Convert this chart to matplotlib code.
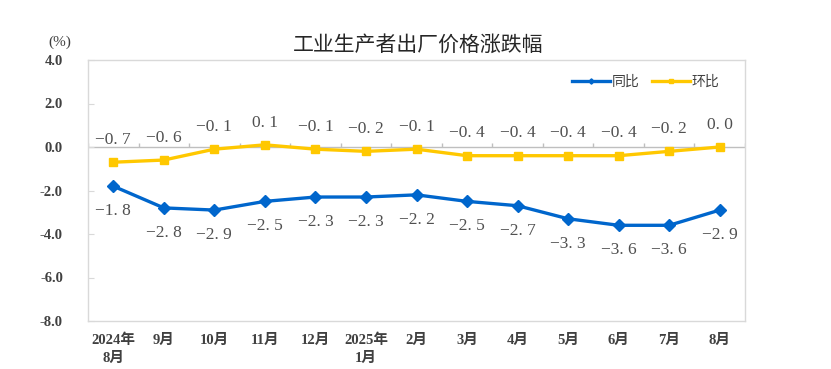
import matplotlib
matplotlib.use("Agg")
import matplotlib.pyplot as plt
import numpy as np

# data
months = ["2024年\n8月", "9月", "10月", "11月", "12月", "2025年\n1月", "2月",
          "3月", "4月", "5月", "6月", "7月", "8月"]
yoy = [-1.8, -2.8, -2.9, -2.5, -2.3, -2.3, -2.2, -2.5, -2.7, -3.3, -3.6, -3.6, -2.9]
mom = [-0.7, -0.6, -0.1, 0.1, -0.1, -0.2, -0.1, -0.4, -0.4, -0.4, -0.4, -0.2, 0.0]
yticks = [4.0, 2.0, 0.0, -2.0, -4.0, -6.0, -8.0]

BLUE = "#0066CC"
YELLOW = "#FFC800"
GRID = "#D9D9D9"
TXT = "#404040"
SERIF = ["Liberation Serif", "Noto Sans CJK SC"]
CJK = ["Noto Sans CJK SC", "DejaVu Sans"]


def fmt(v):
    # wide, SimSun-like look of the original data labels
    return f"{v:.1f}".replace(".", ". ").replace("-", "−")


fig = plt.figure(figsize=(8.31, 3.69), dpi=100)
ax = fig.add_axes([88 / 831, 1 - 321 / 369, 657 / 831, 261 / 369])

x = np.arange(len(months))
ax.plot(x, yoy, color=BLUE, lw=2.4, marker="D", ms=6, label="同比", zorder=4)
ax.plot(x, mom, color=YELLOW, lw=2.4, marker="s", ms=6, label="环比", zorder=4)

for xi, v in zip(x, mom):
    ax.annotate(fmt(v), (xi, v), xytext=(0, 16), textcoords="offset points",
                ha="center", va="center", fontsize=12.5, color="#505050",
                family=["Liberation Serif"])
for xi, v in zip(x, yoy):
    ax.annotate(fmt(v), (xi, v), xytext=(0, -18), textcoords="offset points",
                ha="center", va="center", fontsize=12.5, color="#505050",
                family=["Liberation Serif"])

ax.set_xlim(-0.5, len(months) - 0.5)
ax.set_ylim(-8, 4)
ax.axhline(0, color="#BFBFBF", lw=1, zorder=1)
ax.vlines(np.arange(len(months) + 1) - 0.5, 0, 0.2, color="#BFBFBF", lw=1, zorder=1)

for s in ax.spines.values():
    s.set_color(GRID)
    s.set_linewidth(1)

ax.set_yticks(yticks)
ax.set_yticklabels([f"{t:.1f}" for t in yticks], fontsize=10.5, fontweight="bold",
                   color=TXT, family=SERIF)
ax.tick_params(axis="y", direction="in", length=4, color=GRID, pad=18)
ax.set_xticks(x)
ax.set_xticklabels(months, fontsize=10.5, fontweight="bold", color=TXT, family=SERIF,
                   linespacing=1.5, va="top")
ax.tick_params(axis="x", length=0, pad=9)

ax.legend(loc="upper right", bbox_to_anchor=(0.98, 0.99), ncol=2, frameon=False,
          prop={"family": CJK, "size": 10}, handlelength=2.7, markerscale=0.45,
          columnspacing=0.9, handletextpad=0.15, labelcolor=TXT)

fig.text(418 / 831, 1 - 45 / 369, "工业生产者出厂价格涨跌幅", ha="center", va="center",
         fontsize=15, color="#262626", family=CJK)
fig.text(60 / 831, 1 - 42 / 369, "(%)", ha="center", va="center", fontsize=11,
         color=TXT, family=SERIF)

fig.savefig("out.png", dpi=100)
